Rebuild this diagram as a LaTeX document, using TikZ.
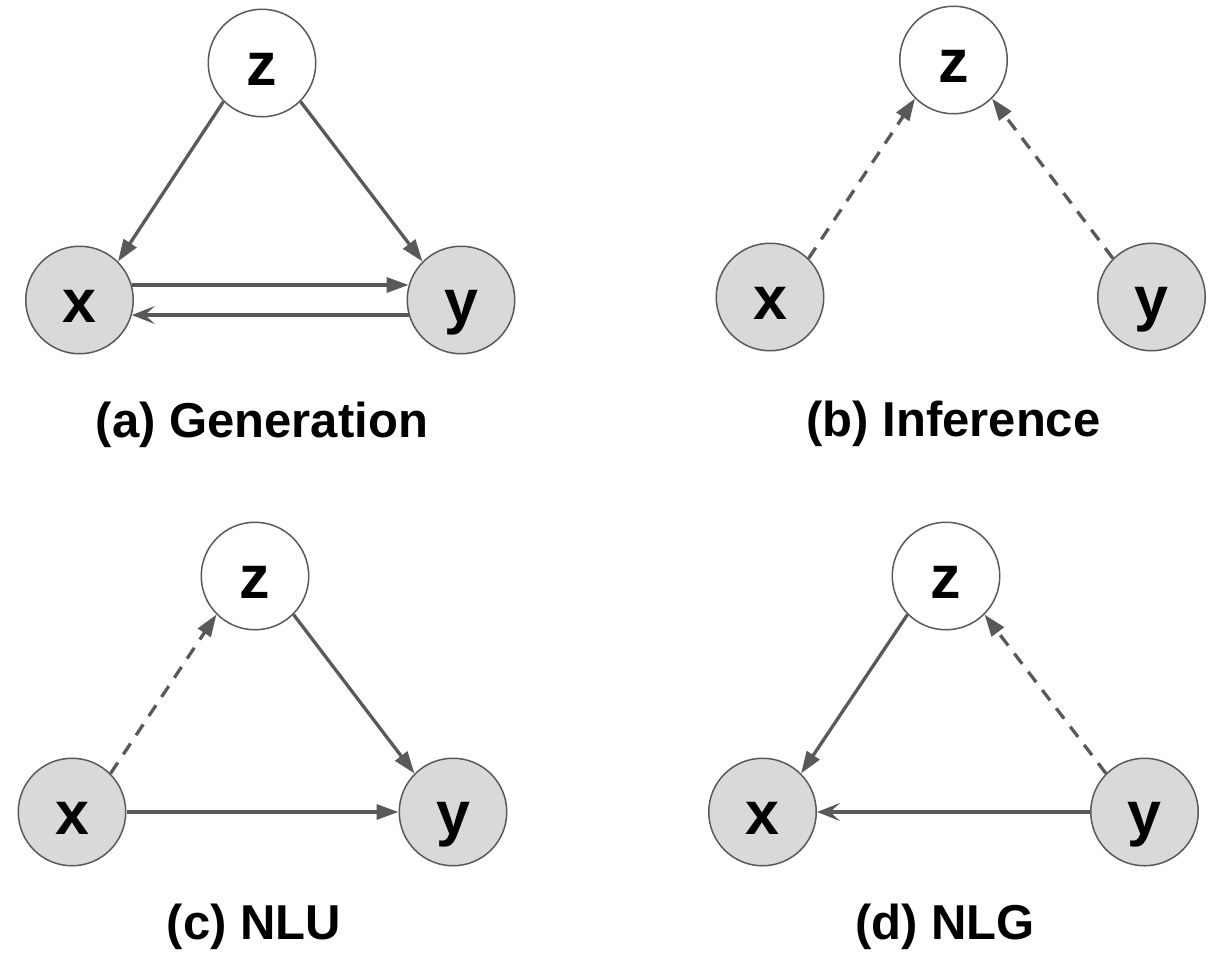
\documentclass[tikz,border=0pt]{standalone}
\usepackage{fontspec}
\setmainfont{Liberation Sans}
\usetikzlibrary{arrows.meta}
\definecolor{edgegray}{HTML}{595959}
\definecolor{obsgray}{HTML}{D9D9D9}
\tikzset{
    var/.style={circle, draw=edgegray, line width=1.5pt, minimum size=107.5pt, inner sep=0pt,
      font=\fontsize{61}{73}\selectfont\bfseries, text height=55pt, text depth=11pt},
    latent/.style={var, fill=white},
    observed/.style={var, fill=obsgray},
    gen/.style={draw=edgegray, line width=3.3pt, -{Triangle[length=22pt,width=15pt]}},
    infer/.style={gen, dash pattern=on 13pt off 10pt},
    back/.style={draw=edgegray, line width=3.3pt, -{Stealth[length=23pt,width=18pt,inset=10pt]}},
    caption/.style={anchor=base, font=\fontsize{49}{59}\selectfont\bfseries},
  }
\begin{document}
\begin{tikzpicture}[x=1pt,y=-1pt]
				  \useasboundingbox (0,0) rectangle (1216,962);
				  %(a) generation
				  \node[latent] (za) at (262,63) {z};
				  \node[observed] (xa) at (79.5,300) {x};
				  \node[observed] (ya) at (461,300) {y};
				  \node[caption] (capa) at (262,437) {(a) Generation};
				  \draw[gen] (za.225) -- (xa.45);
				  \draw[gen] (za.-45) -- (ya.135);
				  \draw[gen] (xa.16) -- (ya.164);
				  \draw[back] (ya.-164) -- (xa.-16);
				  %(b) inference
				  \node[latent] (zb) at (953.5,60) {z};
				  \node[observed] (xb) at (770,297) {x};
				  \node[observed] (yb) at (1151.5,297) {y};
				  \node[caption] (capb) at (953.5,436) {(b) Inference};
				  \draw[infer] (xb.45) -- (zb.225);
				  \draw[infer] (yb.135) -- (zb.-45);
				  %(c) NLU
				  \node[latent] (zc) at (255,576) {z};
				  \node[observed] (xc) at (72,812) {x};
				  \node[observed] (yc) at (453,812) {y};
				  \node[caption] (capc) at (254,939) {(c) NLU};
				  \draw[infer] (xc.45) -- (zc.225);
				  \draw[gen] (zc.-45) -- (yc.135);
				  \draw[gen] (xc.east) -- (yc.west);
				  %(d) NLG
				  \node[latent] (zd) at (946,576) {z};
				  \node[observed] (xd) at (762.5,812) {x};
				  \node[observed] (yd) at (1144.5,812) {y};
				  \node[caption] (capd) at (945,939) {(d) NLG};
				  \draw[gen] (zd.225) -- (xd.45);
				  \draw[infer] (yd.135) -- (zd.-45);
				  \draw[back] (yd.west) -- (xd.east);
\end{tikzpicture}
\end{document}
